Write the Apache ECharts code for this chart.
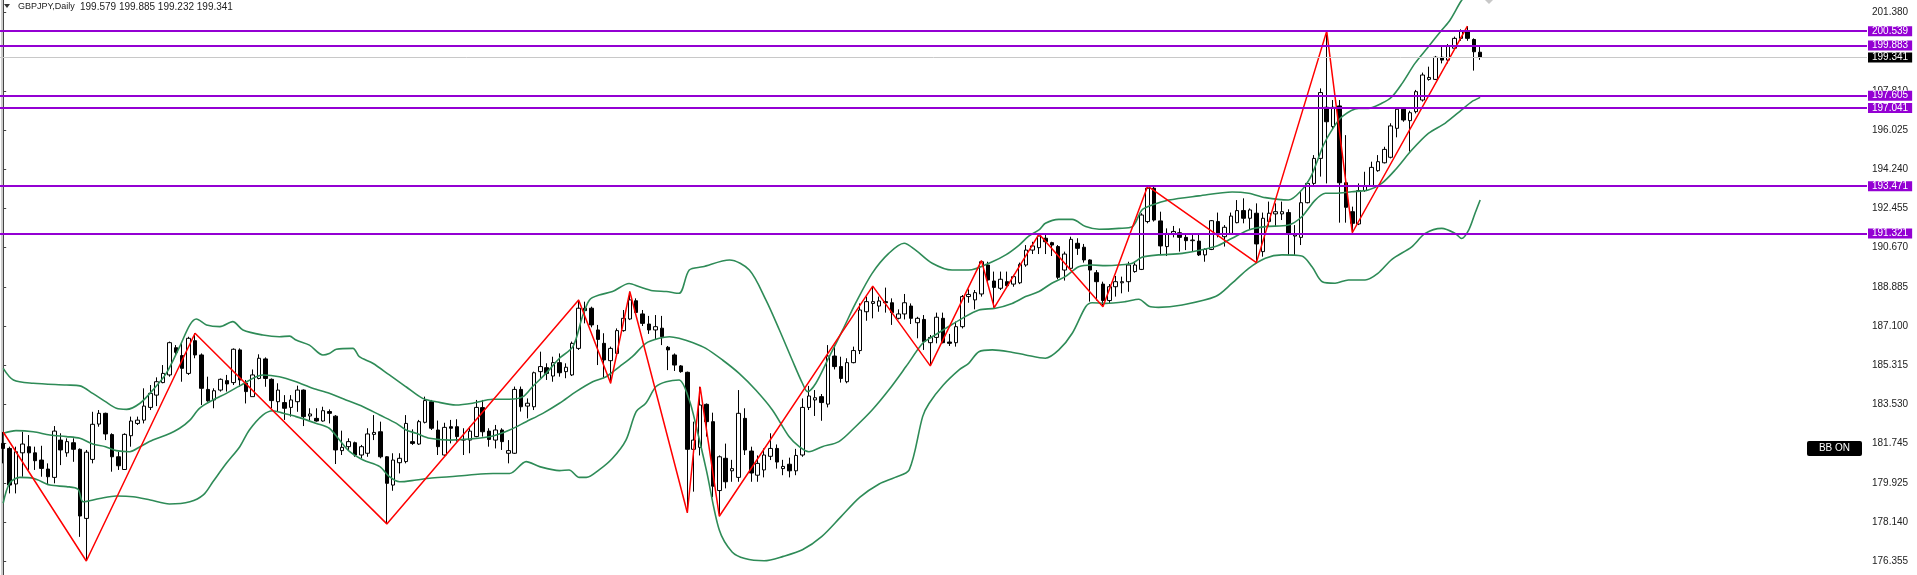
<!DOCTYPE html>
<html><head><meta charset="utf-8">
<script src="https://cdn.jsdelivr.net/npm/echarts@6/dist/echarts.min.js"></script>
<style>html,body{margin:0;padding:0;background:#fff}#c{width:1917px;height:575px}</style>
</head><body><div id="c"></div>
<script>
// ---- candle data (GBPJPY daily) ----
const opens = [
181.75,181.52,179.90,181.32,181.60,181.32,180.99,180.58,180.20,181.90,
181.32,181.78,181.48,178.33,181.02,182.63,183.12,182.15,181.14,180.56,
182.10,182.66,182.81,183.39,183.95,184.52,184.87,186.11,185.75,184.94,
186.43,185.78,184.21,183.73,184.18,184.61,184.52,186.01,184.49,183.88,
184.71,185.60,184.67,183.65,183.61,183.39,183.65,184.18,183.00,182.89,
182.77,183.20,182.99,181.42,181.60,181.78,181.22,181.30,182.16,182.28,
181.14,179.85,180.87,180.92,181.83,181.72,182.71,183.65,182.36,181.22,
182.51,182.51,181.93,181.90,182.06,183.38,182.31,181.90,182.36,181.30,
181.30,184.21,183.45,183.42,185.02,185.20,184.82,185.43,185.02,184.87,
186.08,187.91,187.91,186.92,186.31,185.52,185.85,186.89,187.42,188.25,
187.65,187.19,186.92,187.00,186.13,185.78,185.28,184.99,181.48,181.57,
183.53,182.74,179.60,181.07,180.50,180.20,182.89,181.40,180.30,180.54,
181.16,181.52,180.60,180.80,180.50,181.22,183.39,183.73,183.88,183.54,
185.73,185.25,184.56,185.43,185.98,187.75,188.13,188.01,188.21,188.16,
187.45,187.65,188.01,187.25,187.40,186.34,186.58,187.45,186.37,186.34,
187.07,188.44,188.29,188.56,189.88,189.15,188.82,189.12,189.01,189.07,
189.88,190.56,190.67,191.10,190.90,190.72,189.65,189.73,190.87,190.69,
190.11,189.53,189.01,188.26,188.89,189.07,189.12,189.58,189.68,191.86,
193.38,191.89,190.72,191.32,191.35,191.14,190.99,190.97,190.34,190.59,
191.86,191.17,191.32,191.81,192.36,192.01,192.24,190.49,191.86,192.21,
192.21,192.27,191.20,191.14,192.72,193.60,194.74,197.07,196.19,197.13,
193.63,192.31,191.75,193.27,193.48,194.18,194.54,194.79,196.11,196.98,
196.46,196.87,197.40,198.34,198.34,199.35,199.22,199.76,200.21,200.56,
200.16,199.579];
const closes = [
181.52,179.85,181.37,181.72,181.32,180.96,180.61,180.23,182.31,181.45,
181.83,181.48,178.44,181.35,182.62,183.12,182.18,181.14,180.73,182.16,
182.77,182.81,183.45,184.03,184.56,184.94,186.34,185.90,185.17,186.54,
185.78,184.26,183.69,184.15,184.67,184.46,186.04,184.64,184.11,184.87,
185.63,184.71,183.70,184.18,183.35,183.73,184.18,182.97,183.09,182.77,
183.24,183.12,181.45,181.57,181.83,181.22,181.60,182.18,182.25,181.14,
179.93,180.99,181.07,182.66,181.75,182.74,183.70,182.44,181.60,182.48,
182.44,182.06,181.90,182.31,183.39,182.28,181.93,182.36,181.83,181.42,
184.21,183.42,183.58,184.97,185.25,184.94,185.43,184.97,185.22,186.31,
187.91,187.80,187.15,186.49,185.55,186.08,186.89,187.45,188.29,187.72,
187.22,186.92,187.07,186.61,186.01,185.32,185.02,181.48,181.90,183.50,
182.74,179.80,181.14,180.00,180.60,183.12,181.45,180.40,180.84,181.22,
181.52,180.90,180.70,180.50,181.20,183.39,183.91,183.83,183.61,185.73,
185.25,184.71,185.43,185.98,187.83,188.21,188.21,188.24,188.16,187.71,
187.65,188.16,187.45,187.45,186.39,186.58,187.50,186.34,186.31,187.07,
188.44,188.54,188.62,190.03,189.20,188.86,189.23,188.94,189.35,189.91,
190.56,190.75,191.20,190.94,190.79,189.32,190.38,191.05,190.64,190.11,
189.65,189.12,188.26,188.89,189.12,189.12,189.88,189.88,192.16,193.38,
191.93,190.75,191.32,191.41,191.14,190.99,191.02,190.34,190.59,191.90,
191.32,191.60,192.11,192.36,192.01,192.39,190.84,192.01,192.24,192.31,
192.31,191.32,191.25,192.72,193.60,194.74,197.74,196.41,197.07,193.63,
192.51,191.78,193.27,193.50,194.33,194.59,195.15,196.22,196.98,196.49,
196.82,197.78,198.54,198.43,199.35,199.22,199.86,200.21,200.56,200.21,
199.60,199.341];
const lows = [
180.84,179.47,179.47,180.23,180.54,180.54,180.23,179.85,179.93,180.76,
181.14,180.91,177.49,176.39,180.84,182.51,181.90,180.46,180.54,180.54,
181.60,182.59,182.66,183.27,183.45,184.49,184.79,185.78,184.56,184.87,
185.63,183.50,183.65,183.35,184.11,184.11,184.41,184.33,183.57,183.88,
184.67,184.33,183.35,183.19,182.82,182.97,183.19,182.54,182.79,182.74,
182.74,182.66,180.81,181.22,181.45,181.14,181.07,181.14,181.90,181.07,
178.08,179.59,180.38,180.84,181.68,181.68,182.66,182.36,181.22,181.14,
181.75,181.83,181.22,181.30,182.03,182.06,181.60,181.52,181.45,180.84,
181.27,183.20,182.89,183.27,184.72,184.64,184.56,184.79,184.72,184.82,
186.01,187.22,187.04,185.32,184.72,184.49,185.78,186.84,187.37,187.68,
187.10,186.74,186.46,186.23,185.09,185.05,184.97,178.59,179.55,181.20,
182.06,179.30,178.43,179.70,180.00,180.00,181.22,180.00,180.00,180.20,
180.99,180.60,180.30,180.20,180.30,181.14,183.27,183.00,182.78,183.39,
185.12,184.52,184.49,185.40,185.82,187.34,187.45,187.75,187.71,187.15,
187.40,187.40,187.19,186.54,186.01,185.28,186.31,186.31,186.19,186.16,
186.99,188.16,187.86,188.44,189.12,187.94,188.74,188.89,188.89,189.01,
189.80,190.38,190.38,190.38,190.29,189.23,189.17,189.65,190.34,189.99,
188.21,188.26,187.98,188.13,188.44,188.59,188.66,189.53,189.65,191.78,
191.86,190.34,190.29,191.14,190.49,190.56,190.49,190.29,190.03,190.56,
191.14,190.72,191.25,191.78,191.78,191.48,189.99,190.26,191.66,191.66,
191.93,190.34,190.34,190.79,192.69,193.53,193.91,193.60,196.03,191.81,
191.81,191.35,191.70,193.22,193.45,194.13,194.51,194.74,195.70,196.41,
195.05,196.79,197.33,198.28,198.31,199.07,199.07,199.71,200.10,200.10,
198.74,199.232];
const highs = [
182.27,181.60,181.60,182.28,182.13,181.60,181.64,180.84,182.54,182.21,
181.98,181.98,181.52,181.45,183.19,183.27,183.15,182.21,181.37,182.21,
182.97,182.97,184.26,184.41,184.76,185.32,186.39,186.23,186.31,186.61,
186.77,185.85,184.79,184.26,184.71,184.87,186.08,186.08,184.64,185.12,
185.81,185.67,184.71,184.49,183.95,183.95,184.38,184.21,183.35,183.35,
183.42,183.30,183.04,182.33,181.98,181.83,181.68,182.44,183.04,182.74,
181.17,181.30,181.30,183.04,182.39,182.82,183.88,183.73,182.79,182.69,
182.82,182.85,182.44,182.51,183.73,183.73,182.44,182.59,182.44,181.90,
184.34,184.34,183.80,185.02,185.93,185.40,185.70,185.85,185.40,186.39,
188.29,188.21,187.98,187.15,186.77,186.16,186.99,187.83,188.67,188.36,
187.83,187.56,187.60,187.56,186.19,185.85,185.32,185.02,182.74,184.33,
183.57,183.15,181.20,181.74,181.00,184.18,183.35,181.60,181.20,181.52,
182.21,181.70,181.00,181.10,181.50,183.80,184.37,184.18,184.00,186.23,
186.23,185.70,185.63,186.16,188.13,188.44,188.92,188.44,188.85,188.36,
187.86,188.56,188.13,187.52,187.60,186.69,187.71,187.71,186.74,187.30,
188.51,188.77,188.74,190.08,190.03,189.58,189.58,189.58,189.43,189.99,
190.79,190.94,191.29,191.25,190.94,190.79,190.49,191.17,191.10,190.84,
190.14,189.65,189.12,189.01,189.38,189.35,190.03,190.03,192.24,193.48,
193.45,192.31,191.55,191.66,191.55,191.32,191.25,191.32,190.64,191.93,
192.27,191.70,192.27,192.84,192.92,192.46,192.69,192.27,192.77,192.69,
192.77,192.42,191.70,193.22,193.68,194.89,197.93,200.54,197.40,197.40,
195.80,192.54,193.60,194.13,194.59,194.89,195.27,196.34,197.07,197.02,
196.91,197.86,198.65,198.92,199.41,199.86,199.95,200.29,200.62,200.77,
200.21,199.885];

// ---- Bollinger bands, [bar index, price] ----
const bbUpper = [[0,185.17],[1.6,184.64],[4.7,184.49],[9.9,184.41],[12,184.37],[14,184.03],[16,183.65],[17.7,183.35],[19.3,183.30],[21.4,183.58],[23.4,184.18],[25.5,184.94],[27.6,186.16],[29.2,187.15],[30.2,187.42],[31.8,187.15],[33.9,187.07],[35.9,187.30],[37.5,186.92],[40.6,186.69],[43.2,186.61],[44.8,186.64],[45.8,186.46],[47.9,186.23],[50,185.78],[51,185.85],[52.1,186.04],[54.7,186.08],[55.7,185.70],[57.8,185.40],[60.4,184.87],[63,184.33],[65.6,183.80],[67.7,183.65],[70.8,183.50],[73.4,183.58],[76.6,183.76],[79.2,183.76],[81.3,183.88],[82.8,184.34],[84.9,184.94],[87,185.63],[89.1,186.16],[90.6,187.53],[91.7,188.29],[93.2,188.51],[95.3,188.67],[97.9,189.04],[99.5,188.89],[101.6,188.71],[103.7,188.67],[105.7,188.59],[107.3,189.65],[109.4,189.80],[113.6,190.11],[116.7,189.65],[119.3,188.28],[121.4,186.92],[123.4,185.55],[125,184.49],[125.8,184.11],[127.1,184.49],[129.2,185.70],[131.3,186.92],[133.3,188.13],[135.9,189.50],[138.5,190.41],[140.9,190.87],[142.7,190.56],[145.3,189.96],[148.4,189.65],[151,189.65],[154.7,190.03],[156.8,190.34],[158.9,190.79],[160.4,191.20],[162,191.48],[163,191.78],[165.1,191.96],[167.2,191.96],[169.3,191.63],[171.4,191.51],[174.5,191.55],[176.6,191.63],[178.1,192.39],[179.7,192.62],[182.3,192.84],[187,193.03],[192.2,193.21],[194.8,193.15],[197.4,192.95],[201,192.84],[203.1,193.30],[204.5,193.90],[205.5,194.60],[206.5,195.35],[207.8,196.03],[209.4,196.64],[212,197.02],[213.5,197.02],[215.6,197.25],[217.2,197.55],[218.8,198.16],[220.8,199.07],[222.9,199.83],[225,200.59],[226.3,201.05],[228,201.90],[230,202.70],[231,203.10]];
const bbMiddle = [[0,182.21],[2,182.33],[4.7,182.28],[7.3,182.13],[9.9,182.06],[12,181.98],[14,181.72],[16,181.60],[17.7,181.42],[19.8,181.37],[21.4,181.60],[23.4,181.90],[25.5,182.13],[27.6,182.44],[29.2,182.81],[30.7,183.35],[32.8,183.73],[34.9,184.03],[37,184.37],[40.6,184.87],[43.2,184.79],[45.8,184.56],[48.4,184.26],[51,184.03],[53.6,183.73],[56.3,183.42],[58.9,183.04],[61.5,182.66],[63,182.36],[64.6,182.21],[66.7,181.98],[69.8,181.90],[72.9,181.95],[76.6,182.09],[79.2,182.36],[81.8,182.74],[84.4,183.12],[87,183.58],[89.6,184.11],[92.2,184.56],[94.3,184.79],[96.4,185.25],[98.4,185.70],[100.5,186.31],[102.6,186.54],[104.2,186.61],[105.7,186.54],[107.8,186.35],[109.9,186.08],[112.5,185.55],[115.1,184.94],[117.7,184.18],[120.3,183.27],[122.9,182.06],[124.5,181.60],[126,181.37],[128.1,181.60],[130.7,181.83],[133.3,182.51],[135.9,183.27],[138.5,184.18],[141.2,185.25],[143.8,186.31],[145.3,186.61],[147.4,186.99],[150,187.45],[152.6,187.83],[155.2,187.91],[157.8,188.13],[159.9,188.44],[162,188.67],[164,189.05],[166.1,189.35],[168.2,189.80],[170.3,189.88],[172.4,189.85],[174.5,189.88],[176.6,189.96],[178.1,190.23],[180.7,190.34],[184.4,190.41],[189.6,190.72],[192.2,191.10],[194.8,191.48],[197.4,191.63],[201,191.70],[203.1,192.08],[205.2,192.84],[206.8,193.15],[208.3,193.15],[210.9,193.22],[213.5,193.30],[215.6,193.60],[217.7,194.21],[220.3,195.12],[222.9,195.88],[225.5,196.34],[228.1,196.95],[229.7,197.33],[231,197.52]];
const bbLower = [[0,179.02],[1,179.93],[2.6,180.20],[4.7,180.16],[7.3,179.85],[9.9,179.78],[11.7,179.66],[12.5,179.09],[15.1,179.24],[17.7,179.35],[20.3,179.32],[23,179.17],[26,178.99],[29.2,179.09],[31.3,179.40],[32.8,180.00],[34.9,180.84],[37,181.60],[38.5,182.36],[40.6,183.04],[42.2,183.24],[43.8,183.12],[45.8,182.97],[49,182.66],[51,182.44],[52.6,181.90],[54.2,181.37],[56.3,180.99],[58.9,180.69],[60.4,180.23],[62,180.00],[64.6,180.08],[66.7,180.16],[69.8,180.23],[72.9,180.31],[76.6,180.38],[79.2,180.38],[81.8,180.92],[83.9,180.69],[87,180.51],[88.5,180.54],[90.1,180.20],[91.2,180.20],[93.2,180.54],[95.3,181.07],[97.4,181.90],[99,183.20],[100.5,183.58],[102.1,184.34],[103.7,184.56],[105.7,184.64],[107.3,183.73],[108.4,182.51],[110,180.50],[112,177.80],[114,176.80],[116,176.50],[119,176.40],[122,176.60],[125,176.90],[128,177.50],[131,178.40],[134,179.30],[137,179.90],[139.5,180.20],[141.7,180.54],[143.8,182.97],[144.8,183.57],[147,184.40],[149.5,185.10],[151,185.40],[152.6,185.93],[154.7,186.01],[157.3,185.93],[159.9,185.78],[163,185.63],[165.1,186.01],[167.2,186.77],[169.3,187.98],[170.3,188.16],[172.4,188.13],[175.5,188.21],[177.6,188.32],[179.2,188.00],[180.7,187.95],[184.4,188.06],[189.6,188.44],[192.2,189.05],[194.8,189.73],[197.4,190.19],[200,190.34],[203.1,190.29],[204.7,189.80],[206.3,189.12],[208.3,189.05],[210.4,189.20],[213,189.20],[215,189.50],[217.2,190.14],[220.3,190.71],[222.4,191.32],[225,191.55],[227.1,191.32],[228.1,191.09],[229.2,191.47],[230.2,192.24],[231,192.84]];

// ---- ZigZag pivots [bar index, price] ----
const zigzag = [[0,182.27],[13,176.39],[30,186.77],[60,178.08],[90,188.29],[95,184.49],[98,188.67],[107,178.59],[109,184.33],[112,178.43],[136,188.92],[145,185.28],[153,190.08],[155,187.94],[162,191.29],[172,187.98],[179,193.48],[196,189.99],[207,200.54],[211,191.35],[229,200.77]];

// ---- horizontal levels ----
const levels = [200.539, 199.883, 197.605, 197.041, 193.471, 191.321];
const lastPrice = 199.341;
const priceTicks = [201.380, 197.810, 196.025, 194.240, 192.455, 190.670, 188.885, 187.100, 185.315, 183.530, 181.745, 179.925, 178.140, 176.355];
const titleSymbol = 'GBPJPY,Daily';
const titleOHLC = ['199.579', '199.885', '199.232', '199.341'];

const SLOTS = 292;
const cats = Array.from({length: SLOTS}, (_, i) => String(i));
const candles = opens.map((o, i) => [o, closes[i], lows[i], highs[i]]);

const FONT = 'Liberation Sans';
const chart = echarts.init(document.getElementById('c'), null, {renderer: 'canvas'});

const lvlData = levels.map(v => ({
  name: v.toFixed(3),
  yAxis: v,
  lineStyle: {color: '#9400D3', width: 2, type: 'solid'},
  label: {backgroundColor: '#9400D3', color: '#ffffff'}
}));
lvlData.unshift({
  name: lastPrice.toFixed(3),
  yAxis: lastPrice,
  lineStyle: {color: '#c8c8c8', width: 1, type: 'solid'},
  label: {backgroundColor: '#000000', color: '#ffffff'}
});

const lineCommon = {type: 'line', xAxisIndex: 1, yAxisIndex: 0, showSymbol: false, symbol: 'none', silent: true, animation: false};

chart.setOption({
  backgroundColor: '#ffffff',
  animation: false,
  grid: {left: 0, right: 50, top: 0, bottom: 0, containLabel: false},
  xAxis: [
    {type: 'category', data: cats, boundaryGap: true, show: false},
    {type: 'value', min: -0.5, max: SLOTS - 0.5, show: false}
  ],
  yAxis: [{
    type: 'value', position: 'right', min: 175.751, max: 201.959, scale: true,
    axisLine: {show: true, lineStyle: {color: '#444', width: 1}},
    axisTick: {show: true, inside: false, length: 3, lineStyle: {color: '#444'}, customValues: priceTicks},
    axisLabel: {show: true, margin: 5, color: '#222', fontSize: 10, fontFamily: FONT,
      customValues: priceTicks, formatter: v => Number(v).toFixed(3)},
    splitLine: {show: false}
  }],
  series: [
    {
      type: 'candlestick', xAxisIndex: 0, yAxisIndex: 0, data: candles, barWidth: 4,
      silent: true, animation: false,
      itemStyle: {color: '#ffffff', color0: '#000000', borderColor: '#000000', borderColor0: '#000000', borderWidth: 1}
    },
    Object.assign({}, lineCommon, {data: bbUpper, smooth: 0.3, lineStyle: {color: '#2E8B57', width: 1.6}, z: 3}),
    Object.assign({}, lineCommon, {data: bbMiddle, smooth: 0.3, lineStyle: {color: '#2E8B57', width: 1.6}, z: 3}),
    Object.assign({}, lineCommon, {data: bbLower, smooth: 0.3, lineStyle: {color: '#2E8B57', width: 1.6}, z: 3}),
    Object.assign({}, lineCommon, {data: zigzag, lineStyle: {color: '#ff0000', width: 1.5}, z: 4,
      markLine: {
        silent: true, animation: false, symbol: ['none', 'none'],
        label: {show: true, position: 'end', distance: 1, fontSize: 10, fontFamily: FONT,
          padding: [0, 4], lineHeight: 10, formatter: p => p.name},
        data: lvlData
      }})
  ],
  graphic: [
    {type: 'line', shape: {x1: 2, y1: 0, x2: 2, y2: 575}, style: {stroke: '#9a9a9a', lineWidth: 1}},
    {type: 'polygon', shape: {points: [[4, 4], [10, 4], [7, 8]]}, style: {fill: '#333'}},
    {type: 'text', x: 18, y: 7, style: {text: titleSymbol, font: '9px ' + FONT, fill: '#222', textVerticalAlign: 'middle'}},
    {type: 'text', x: 80, y: 7, style: {text: titleOHLC.join(' '), font: '10px ' + FONT, fill: '#222', textVerticalAlign: 'middle'}},
    {type: 'polygon', shape: {points: [[1484, -1], [1489, 4], [1494, -1]]}, style: {fill: '#c8c8c8'}},
    {type: 'rect', shape: {x: 1807, y: 441, width: 55, height: 15, r: 2}, style: {fill: '#000'}},
    {type: 'text', x: 1834.5, y: 448.5, style: {text: 'BB ON', font: '10px ' + FONT, fill: '#fff', textAlign: 'center', textVerticalAlign: 'middle'}}
  ]
});
</script>
</body></html>
